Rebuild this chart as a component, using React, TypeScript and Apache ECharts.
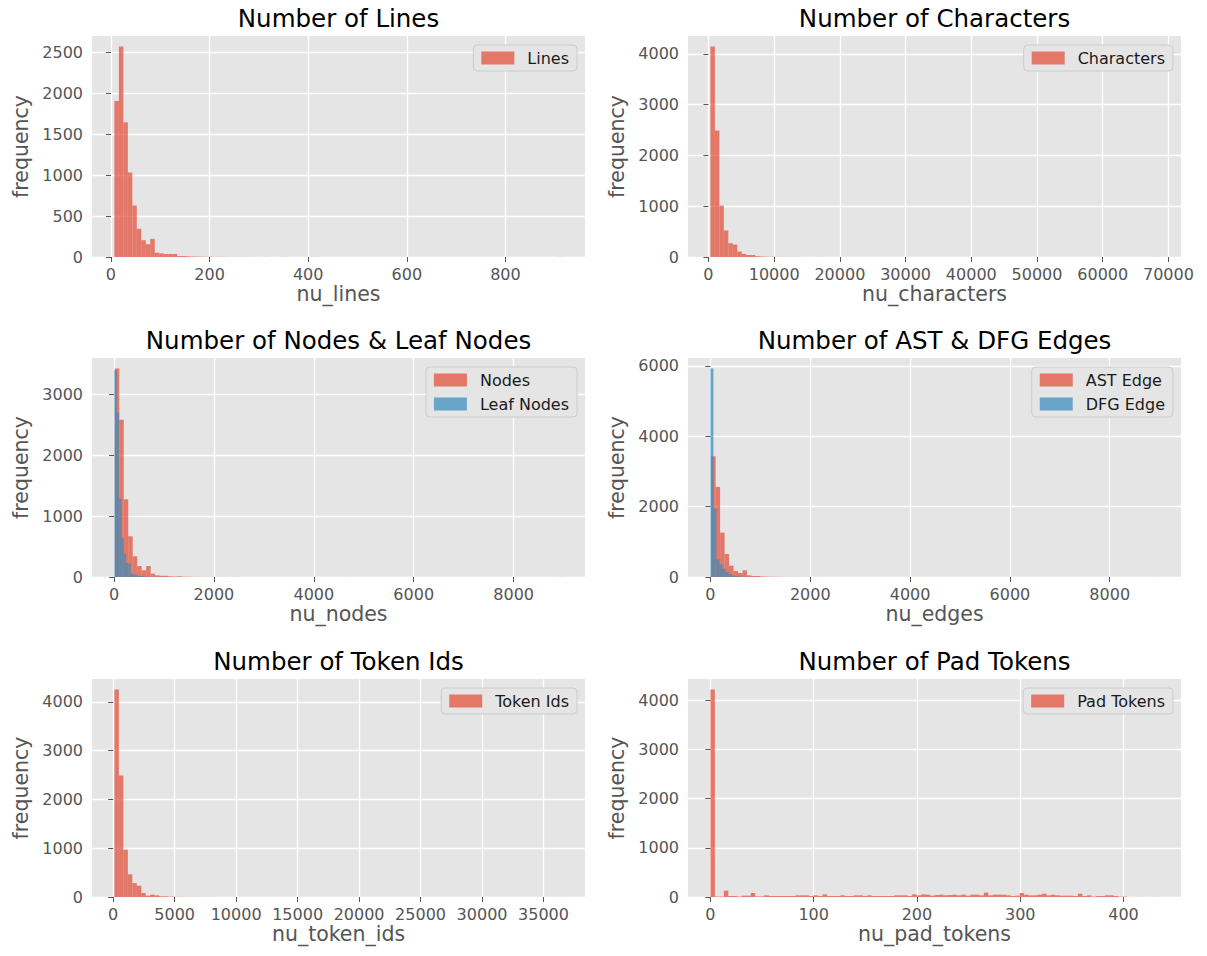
import React, { useEffect, useRef } from "react";
import * as echarts from "echarts";

// ---------- data (histograms, 100 equal bins between min and max) ----------
const linesRange = [7, 916];
const linesCounts = [
  1909, 2576, 1650, 1033, 630, 346, 206, 156, 222, 53,
  45, 37, 37, 37, 12, 12, 8, 6, 5, 4,
  3, 3, 2, 2, 2, 1, 1, 1, 1, 0,
  1, 0, 0, 1, 0, 0, 0, 1, 0, 0,
  0, 0, 0, 0, 1, 0, 0, 0, 0, 0,
  0, 0, 0, 0, 0, 0, 0, 0, 0, 0,
  0, 0, 0, 0, 0, 0, 0, 0, 0, 0,
  0, 0, 0, 0, 0, 0, 0, 0, 0, 0,
  0, 0, 0, 0, 0, 0, 0, 0, 0, 0,
  0, 0, 0, 0, 0, 0, 0, 0, 0, 1,
];

const charactersRange = [300, 68500];
const charactersCounts = [
  4145, 2490, 1013, 523, 271, 245, 106, 60, 40, 40,
  15, 10, 6, 4, 3, 2, 2, 1, 1, 1,
  0, 1, 0, 0, 1, 0, 0, 0, 0, 0,
  0, 0, 0, 0, 0, 0, 0, 0, 0, 0,
  0, 0, 0, 0, 0, 0, 0, 0, 0, 0,
  0, 0, 0, 0, 0, 0, 0, 0, 0, 0,
  0, 0, 0, 0, 0, 0, 0, 0, 0, 0,
  0, 0, 0, 0, 0, 0, 0, 0, 0, 0,
  0, 0, 0, 0, 0, 0, 0, 0, 0, 0,
  0, 0, 0, 0, 0, 0, 0, 0, 0, 1,
];

const nodesRange = [16, 8980];
const nodesCounts = [
  3420, 2580, 1275, 667, 340, 180, 110, 180, 55, 27,
  20, 20, 10, 8, 12, 5, 4, 3, 2, 2,
  1, 1, 1, 0, 1, 0, 0, 1, 0, 0,
  0, 0, 0, 0, 0, 0, 0, 0, 0, 0,
  0, 0, 0, 0, 0, 0, 0, 0, 0, 0,
  0, 0, 0, 0, 0, 0, 0, 0, 0, 0,
  0, 0, 0, 0, 0, 0, 0, 0, 0, 0,
  0, 0, 0, 0, 0, 0, 0, 0, 0, 0,
  0, 0, 0, 0, 0, 0, 0, 0, 0, 0,
  0, 0, 0, 0, 0, 0, 0, 0, 0, 1,
];

const leafNodesRange = [8, 4700];
const leafNodesCounts = [
  3394, 2698, 1286, 640, 383, 230, 219, 55, 38, 38,
  16, 16, 8, 5, 4, 3, 2, 2, 1, 1,
  1, 0, 1, 0, 0, 0, 0, 0, 0, 0,
  0, 0, 0, 0, 0, 0, 0, 0, 0, 0,
  0, 0, 0, 0, 0, 0, 0, 0, 0, 0,
  0, 0, 0, 0, 0, 0, 0, 0, 0, 0,
  0, 0, 0, 0, 0, 0, 0, 0, 0, 0,
  0, 0, 0, 0, 0, 0, 0, 0, 0, 0,
  0, 0, 0, 0, 0, 0, 0, 0, 0, 0,
  0, 0, 0, 0, 0, 0, 0, 0, 0, 1,
];

const astEdgesRange = [15, 8979];
const astEdgesCounts = [
  3430, 2560, 1260, 654, 322, 170, 114, 190, 47, 28,
  28, 15, 10, 8, 6, 4, 3, 2, 2, 1,
  1, 1, 0, 1, 0, 0, 0, 0, 0, 0,
  0, 0, 0, 0, 0, 0, 0, 0, 0, 0,
  0, 0, 0, 0, 0, 0, 0, 0, 0, 0,
  0, 0, 0, 0, 0, 0, 0, 0, 0, 0,
  0, 0, 0, 0, 0, 0, 0, 0, 0, 0,
  0, 0, 0, 0, 0, 0, 0, 0, 0, 0,
  0, 0, 0, 0, 0, 0, 0, 0, 0, 0,
  0, 0, 0, 0, 0, 0, 0, 0, 0, 1,
];

const dfgEdgesRange = [0, 6100];
const dfgEdgesCounts = [
  5925, 1943, 500, 360, 237, 142, 80, 45, 25, 12,
  8, 5, 3, 2, 1, 1, 1, 0, 1, 0,
  0, 0, 0, 0, 0, 0, 0, 0, 0, 0,
  0, 0, 0, 0, 0, 0, 0, 0, 0, 0,
  0, 0, 0, 0, 0, 0, 0, 0, 0, 0,
  0, 0, 0, 0, 0, 0, 0, 0, 0, 0,
  0, 0, 0, 0, 0, 0, 0, 0, 0, 0,
  0, 0, 0, 0, 0, 0, 0, 0, 0, 0,
  0, 0, 0, 0, 0, 0, 0, 0, 0, 0,
  0, 0, 0, 0, 0, 0, 0, 0, 0, 1,
];

const tokenIdsRange = [100, 36550];
const tokenIdsCounts = [
  4257, 2492, 971, 468, 285, 231, 81, 27, 48, 34,
  15, 15, 8, 5, 3, 2, 2, 1, 1, 1,
  0, 1, 0, 0, 0, 0, 0, 0, 0, 0,
  0, 0, 0, 0, 0, 0, 0, 0, 0, 0,
  0, 0, 0, 0, 0, 0, 0, 0, 0, 0,
  0, 0, 0, 0, 0, 0, 0, 0, 0, 0,
  0, 0, 0, 0, 0, 0, 0, 0, 0, 0,
  0, 0, 0, 0, 0, 0, 0, 0, 0, 0,
  0, 0, 0, 0, 0, 0, 0, 0, 0, 0,
  0, 0, 0, 0, 0, 0, 0, 0, 0, 1,
];

const padTokensRange = [0, 434];
const padTokensCounts = [
  4226, 10, 10, 128, 20, 20, 10, 27, 27, 81,
  13, 13, 34, 20, 20, 20, 20, 20, 20, 34,
  34, 34, 20, 34, 20, 54, 20, 20, 20, 34,
  20, 20, 34, 34, 20, 34, 20, 20, 20, 20,
  20, 34, 34, 34, 20, 54, 34, 54, 47, 27,
  40, 47, 34, 40, 47, 34, 47, 27, 47, 47,
  34, 88, 34, 47, 47, 47, 34, 20, 27, 81,
  47, 34, 34, 47, 67, 34, 47, 34, 27, 27,
  27, 20, 67, 20, 34, 10, 20, 20, 34, 34,
  20, 8, 8, 0, 0, 1, 0, 0, 0, 1,
];

// ---------- tick labels ----------
const linesXTicks = [0, 200, 400, 600, 800];
const linesYTicks = [0, 500, 1000, 1500, 2000, 2500];
const charactersXTicks = [0, 10000, 20000, 30000, 40000, 50000, 60000, 70000];
const charactersYTicks = [0, 1000, 2000, 3000, 4000];
const nodesXTicks = [0, 2000, 4000, 6000, 8000];
const nodesYTicks = [0, 1000, 2000, 3000];
const edgesXTicks = [0, 2000, 4000, 6000, 8000];
const edgesYTicks = [0, 2000, 4000, 6000];
const tokenIdsXTicks = [0, 5000, 10000, 15000, 20000, 25000, 30000, 35000];
const tokenIdsYTicks = [0, 1000, 2000, 3000, 4000];
const padTokensXTicks = [0, 100, 200, 300, 400];
const padTokensYTicks = [0, 1000, 2000, 3000, 4000];

const RED = "#E24A33";
const BLUE = "#348ABD";
const FONT = "DejaVu Sans";

type Hist = { name: string; range: number[]; counts: number[]; color: string };
type Panel = { title: string; xName: string; xTicks: number[]; yTicks: number[]; hists: Hist[] };

const panels: Panel[] = [
  { title: "Number of Lines", xName: "nu_lines", xTicks: linesXTicks, yTicks: linesYTicks,
    hists: [{ name: "Lines", range: linesRange, counts: linesCounts, color: RED }] },
  { title: "Number of Characters", xName: "nu_characters", xTicks: charactersXTicks, yTicks: charactersYTicks,
    hists: [{ name: "Characters", range: charactersRange, counts: charactersCounts, color: RED }] },
  { title: "Number of Nodes & Leaf Nodes", xName: "nu_nodes", xTicks: nodesXTicks, yTicks: nodesYTicks,
    hists: [
      { name: "Nodes", range: nodesRange, counts: nodesCounts, color: RED },
      { name: "Leaf Nodes", range: leafNodesRange, counts: leafNodesCounts, color: BLUE },
    ] },
  { title: "Number of AST & DFG Edges", xName: "nu_edges", xTicks: edgesXTicks, yTicks: edgesYTicks,
    hists: [
      { name: "AST Edge", range: astEdgesRange, counts: astEdgesCounts, color: RED },
      { name: "DFG Edge", range: dfgEdgesRange, counts: dfgEdgesCounts, color: BLUE },
    ] },
  { title: "Number of Token Ids", xName: "nu_token_ids", xTicks: tokenIdsXTicks, yTicks: tokenIdsYTicks,
    hists: [{ name: "Token Ids", range: tokenIdsRange, counts: tokenIdsCounts, color: RED }] },
  { title: "Number of Pad Tokens", xName: "nu_pad_tokens", xTicks: padTokensXTicks, yTicks: padTokensYTicks,
    hists: [{ name: "Pad Tokens", range: padTokensRange, counts: padTokensCounts, color: RED }] },
];

const GRID_W = 493;
const boxes = [
  { left: 92, top: 36, height: 221 },
  { left: 688, top: 36, height: 221 },
  { left: 92, top: 358, height: 219 },
  { left: 688, top: 358, height: 219 },
  { left: 92, top: 679, height: 218 },
  { left: 688, top: 679, height: 218 },
];

function binsOf(h: Hist) {
  const n = h.counts.length;
  const w = (h.range[1] - h.range[0]) / n;
  return h.counts.map((c, i) => [h.range[0] + i * w, h.range[0] + (i + 1) * w, c]);
}

function buildOption() {
  const grid: any[] = [];
  const xAxis: any[] = [];
  const yAxis: any[] = [];
  const title: any[] = [];
  const legend: any[] = [];
  const series: any[] = [];
  const fmt = (v: number) => String(v);

  panels.forEach((p, i) => {
    const b = boxes[i];
    grid.push({
      left: b.left, top: b.top, width: GRID_W, height: b.height,
      show: true, backgroundColor: "#E5E5E5", borderWidth: 0,
    });
    const lo = Math.min(...p.hists.map((h) => h.range[0]));
    const hi = Math.max(...p.hists.map((h) => h.range[1]));
    const pad = (hi - lo) * 0.05;
    const yMax = Math.max(...p.hists.map((h) => Math.max(...h.counts))) * 1.05;
    xAxis.push({
      gridIndex: i, type: "value", min: lo - pad, max: hi + pad,
      axisLine: { show: false },
      axisTick: { show: true, customValues: p.xTicks, length: 5, lineStyle: { color: "#555555", width: 1 } },
      axisLabel: { customValues: p.xTicks, formatter: fmt, color: "#555555", fontSize: 16, fontFamily: FONT, margin: 9 },
      splitLine: { show: true, lineStyle: { color: "#FFFFFF", width: 1.3 } },
      name: p.xName, nameLocation: "middle", nameGap: 26,
      nameTextStyle: { color: "#555555", fontSize: 20.5, fontFamily: FONT },
    });
    yAxis.push({
      gridIndex: i, type: "value", min: 0, max: yMax,
      axisLine: { show: false },
      axisTick: { show: true, customValues: p.yTicks, length: 5, lineStyle: { color: "#555555", width: 1 } },
      axisLabel: { customValues: p.yTicks, formatter: fmt, color: "#555555", fontSize: 16, fontFamily: FONT, margin: 9 },
      splitLine: { show: true, lineStyle: { color: "#FFFFFF", width: 1.3 } },
      name: "frequency", nameLocation: "middle", nameGap: 61,
      nameTextStyle: { color: "#555555", fontSize: 20.5, fontFamily: FONT },
    });
    title.push({
      text: p.title, left: b.left + GRID_W / 2, top: b.top - 30, textAlign: "center", padding: 0,
      textStyle: { fontSize: 24.5, fontWeight: "normal", color: "#000000", fontFamily: FONT },
    });
    const legendRightEdge = b.left + GRID_W - 8;
    legend.push({
      data: p.hists.map((h) => h.name), orient: "vertical",
      right: 1207 - legendRightEdge, top: b.top + 9,
      icon: "rect", itemWidth: 33, itemHeight: 13, itemGap: 8,
      padding: [5, 8], backgroundColor: "#E5E5E5", borderColor: "#CCCCCC", borderWidth: 1, borderRadius: 4,
      selectedMode: false,
      textStyle: { fontSize: 16, color: "#1A1A1A", fontFamily: FONT, padding: [0, 0, 0, 8] },
    });
    p.hists.forEach((h) => {
      series.push({
        type: "custom", name: h.name, xAxisIndex: i, yAxisIndex: i,
        data: binsOf(h), encode: { x: [0, 1], y: 2 },
        itemStyle: { color: h.color, opacity: 0.7 },
        renderItem: (params: any, api: any) => {
          const p0 = api.coord([api.value(0), 0]);
          const p1 = api.coord([api.value(1), api.value(2)]);
          return {
            type: "rect",
            shape: { x: p0[0], y: p1[1], width: p1[0] - p0[0], height: p0[1] - p1[1] },
            style: { fill: h.color, opacity: 0.7 },
          };
        },
      });
    });
  });

  return { animation: false, backgroundColor: "#FFFFFF", grid, xAxis, yAxis, title, legend, series };
}

export default function App() {
  const ref = useRef<HTMLDivElement>(null);
  useEffect(() => {
    if (!ref.current) return;
    const chart = echarts.init(ref.current, undefined, { renderer: "svg" });
    chart.setOption(buildOption() as any);
    return () => chart.dispose();
  }, []);
  return (
    <div
      ref={ref}
      style={{ position: "fixed", left: 0, top: 0, width: 1207, height: 956, background: "#FFFFFF" }}
    />
  );
}
